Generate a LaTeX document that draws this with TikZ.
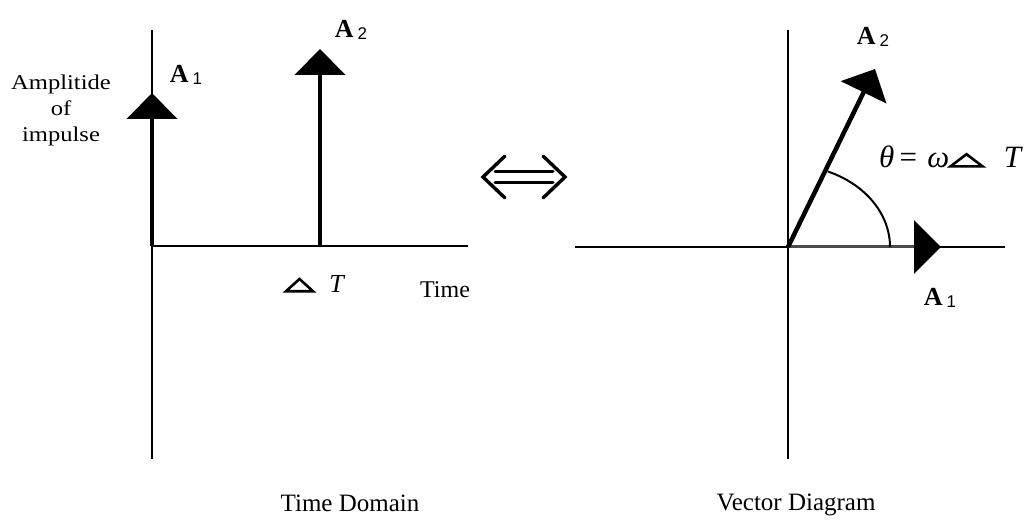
\documentclass[tikz,border=0pt]{standalone}
\usepackage{fontspec}
\setmainfont{Liberation Serif}
\setsansfont{Liberation Sans}
\newfontfamily\widefont[FakeStretch=1.17]{Liberation Serif}
\usetikzlibrary{arrows.meta}

% flat triangle used for Delta T, #1 = its width
\newcommand{\flattri}[1]{\tikz[baseline=0pt]\draw[line width=2.6pt, line join=miter] (0pt,1.3pt) -- (#1,1.3pt) -- (#1/2,13.5pt) -- cycle;}
\newcommand{\ampsub}[1]{\textbf{A}\hspace{4pt}\raisebox{-2pt}{\fontsize{17pt}{17pt}\selectfont\sffamily #1}}

\begin{document}
\begin{tikzpicture}[
    x=1pt, y=-1pt,
    axis/.style={line width=1.8pt, draw=black},
    impulse/.style={line width=4.5pt, -{Triangle[length=26pt, width=50pt]}},
    equivsign/.style={line width=3.4pt, line cap=round},
    txt/.style={inner sep=0pt, font=\fontsize{24pt}{28pt}\selectfont},
    amp/.style={inner sep=0pt, font=\fontsize{26pt}{28pt}\selectfont}
]

\useasboundingbox (0,0) rectangle (1036,521);

% Time domain
\coordinate (o1) at (152,246);
\coordinate (t1top) at (152,30);
\coordinate (t1bot) at (152,459);
\coordinate (t1end) at (468,246);
\coordinate (d1) at (320,246);
\coordinate (a1tip) at (152,93);
\coordinate (a2tip) at (320,49);

\draw[axis] (t1top) -- (t1bot);
\draw[axis] (o1) -- (t1end);
\draw[impulse] (o1) -- (a1tip);
\draw[impulse] (d1) -- (a2tip);

\node[txt, align=center, font=\widefont\fontsize{21pt}{26pt}\selectfont] (ampl) at (61,110) {Amplitide\\of\\impulse};
\node[amp] (a1lab) at (186,75) {\ampsub{1}};
\node[amp] (a2lab) at (351,30) {\ampsub{2}};
\node[txt, font=\fontsize{26pt}{28pt}\selectfont] (dlt) at (315,284) {\flattri{27pt}\hspace{15pt}\textit{T}};
\node[txt] (tlab) at (445,290) {Time};
\node[txt, font=\fontsize{25pt}{28pt}\selectfont] (tdom) at (350,503) {Time Domain};

% Equivalence sign
\coordinate (equiv) at (524,177);
\begin{scope}[shift={(equiv)}]
    \draw[equivsign] (-19,-21) -- (-41,0) -- (-19,21);
    \draw[equivsign] (19,-21) -- (41,0) -- (19,21);
    \draw[equivsign, line width=3pt] (-29,-5.5) -- (29,-5.5);
    \draw[equivsign, line width=3pt] (-29,5.5) -- (29,5.5);
\end{scope}

% Vector diagram
\coordinate (o2) at (788,247);
\coordinate (v2top) at (788,30);
\coordinate (v2bot) at (788,459);
\coordinate (v2beg) at (575,247);
\coordinate (v2end) at (1005,247);
\coordinate (b1tip) at (941,247);
\coordinate (b2tip) at (875,69);
\coordinate (arcbeg) at (890,247);

\draw[axis] (v2top) -- (v2bot);
\draw[axis] (v2beg) -- (v2end);
\draw[line width=3pt, draw=black!70, -{Triangle[length=27pt, width=53pt, color=black]}] (o2) -- (b1tip);
\draw[impulse] (o2) -- (b2tip);
\draw[line width=2pt] (arcbeg) arc[start angle=0, end angle=-67, x radius=102, y radius=82];

\node[amp] (b1lab) at (940,298) {\ampsub{1}};
\node[amp] (b2lab) at (873,37) {\ampsub{2}};
\node[txt, font=\fontsize{31pt}{32pt}\selectfont] (theta) at (951,157) {\textit{θ}\,=\,\,\textit{ω}\flattri{32pt}\hspace{20pt}\textit{T}};
\node[txt, font=\fontsize{25pt}{28pt}\selectfont] (vdia) at (796,505) {Vector Diagram};

\end{tikzpicture}
\end{document}
